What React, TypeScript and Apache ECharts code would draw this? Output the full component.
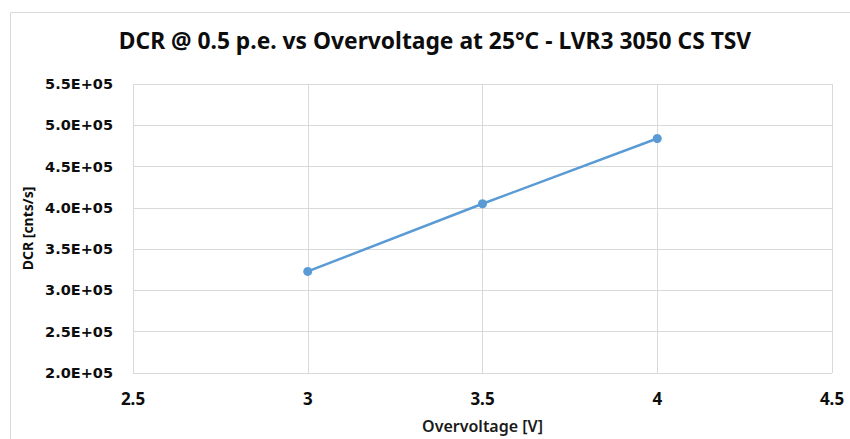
import React, { useEffect, useRef } from "react";
import * as echarts from "echarts";

const titleText = "DCR @ 0.5 p.e. vs Overvoltage at 25°C - LVR3 3050 CS TSV";
const xAxisName = "Overvoltage [V]";
const yAxisName = "DCR [cnts/s]";
const overvoltage = [3, 3.5, 4];
const dcr = [3.23e5, 4.05e5, 4.84e5];

export default function App() {
  const ref = useRef<HTMLDivElement>(null);
  useEffect(() => {
    document.body.style.margin = "0";
    const chart = echarts.init(ref.current!, null, { renderer: "svg" });
    const font = "'Noto Sans', sans-serif";
    chart.setOption({
      animation: false,
      backgroundColor: "#ffffff",
      title: {
        text: titleText,
        left: 435,
        textAlign: "center",
        top: 29,
        padding: 0,
        textStyle: { fontFamily: font, fontSize: 22.8, fontWeight: "bold", color: "#0d0d0d" },
      },
      graphic: [
        {
          type: "rect",
          shape: { x: 10.5, y: 12.5, width: 900, height: 600 },
          style: { fill: "none", stroke: "#d9d9d9", lineWidth: 1 },
          silent: true,
          z: -1,
        },
      ],
      grid: { left: 133, right: 18, top: 84, bottom: 58 },
      xAxis: {
        type: "value",
        min: 2.5,
        max: 4.5,
        interval: 0.5,
        name: xAxisName,
        nameLocation: "middle",
        nameGap: 45,
        nameTextStyle: { fontFamily: font, fontSize: 16, fontWeight: 600, color: "#1a1a1a" },
        axisLine: { show: false },
        axisTick: { show: false },
        splitLine: { show: true, lineStyle: { color: "#d9d9d9", width: 1 } },
        axisLabel: {
          margin: 17,
          fontFamily: font,
          fontSize: 17,
          fontWeight: "bold",
          color: "#0d0d0d",
        },
      },
      yAxis: {
        type: "value",
        min: 2e5,
        max: 5.5e5,
        interval: 0.5e5,
        name: yAxisName,
        nameLocation: "middle",
        nameGap: 97,
        nameRotate: 90,
        nameTextStyle: { fontFamily: font, fontSize: 14, fontWeight: "bold", color: "#0d0d0d" },
        axisLine: { show: false },
        axisTick: { show: false },
        splitLine: { show: true, lineStyle: { color: "#d9d9d9", width: 1 } },
        axisLabel: {
          margin: 20,
          fontFamily: "'DejaVu Sans', sans-serif",
          fontSize: 14.5,
          fontWeight: "bold",
          color: "#0d0d0d",
          formatter: (v: number) => (v / 1e5).toFixed(1) + "E+05",
        },
      },
      series: [
        {
          type: "line",
          data: overvoltage.map((x, i) => [x, dcr[i]]),
          symbol: "circle",
          symbolSize: 9,
          lineStyle: { color: "#5b9bd5", width: 2.5 },
          itemStyle: { color: "#5b9bd5" },
        },
      ],
    });
    return () => chart.dispose();
  }, []);
  return <div ref={ref} style={{ width: 850, height: 439 }} />;
}
